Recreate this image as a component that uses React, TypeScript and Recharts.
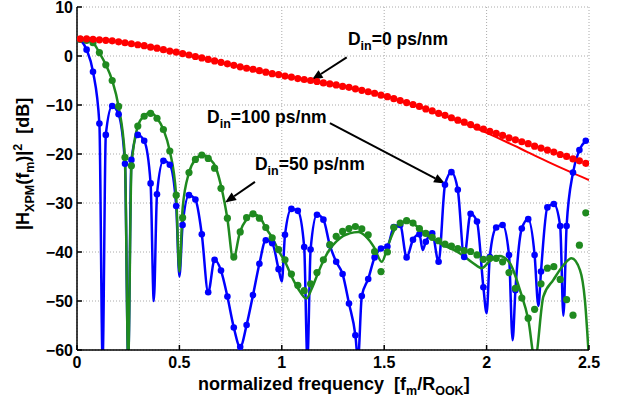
import React from 'react'
import {
  CartesianGrid,
  ComposedChart,
  Label,
  Line,
  ReferenceDot,
  ReferenceLine,
  XAxis,
  YAxis
} from 'recharts'

const FONT = '"Liberation Sans", Arial, Helvetica, sans-serif'
const RED = '#ff0000'
const GREEN = '#1f8a1f'
const BLUE = '#0000ff'

const freqTicks = [0, 0.5, 1, 1.5, 2, 2.5]
const dbTicks = [-60, -50, -40, -30, -20, -10, 0, 10]

// simulated points sit on a 1/32 grid, offset by half a step
const sampleFreq = Array.from({ length: 80 }, (_, k) => (2 * k + 1) / 64)

// D_in = 0 ps/nm, simulation (red dots)
const redSim = [
  3.5, 3.5, 3.4, 3.3, 3.2, 3.1, 2.9, 2.7, 2.5, 2.3,
  2.1, 1.8, 1.6, 1.3, 1.0, 0.8, 0.5, 0.2, -0.1, -0.4,
  -0.7, -1.0, -1.3, -1.6, -1.9, -2.2, -2.5, -2.7, -3.0, -3.3,
  -3.6, -3.8, -4.1, -4.3, -4.6, -4.8, -5.0, -5.2, -5.5, -5.7,
  -5.9, -6.2, -6.4, -6.7, -7.0, -7.3, -7.6, -8.0, -8.3, -8.7,
  -9.1, -9.5, -9.9, -10.3, -10.8, -11.2, -11.7, -12.1, -12.6, -13.1,
  -13.5, -14.0, -14.5, -14.9, -15.4, -15.8, -16.2, -16.7, -17.1, -17.5,
  -17.9, -18.4, -18.8, -19.2, -19.6, -20.1, -20.5, -21.0, -21.4, -21.9
]

// D_in = 50 ps/nm, simulation (green dots)
const greenSim = [
  3.4, 3.2, 2.7, 0.7, -1.8, -5.0, -10.3, -20.7, -22.4, -14.3,
  -12.3, -11.7, -12.7, -15.0, -19.4, -28.4, -33.0, -23.8, -21.1, -20.2,
  -20.9, -22.9, -27.0, -33.1, -41.0, -35.9, -33.0, -32.2, -33.1, -35.0,
  -37.1, -39.5, -41.6, -44.5, -46.8, -47.9, -46.5, -44.2, -41.6, -38.5,
  -36.8, -35.8, -35.2, -34.8, -35.3, -36.5, -39.9, -44.0, -40.0, -35.0,
  -34.1, -33.6, -34.1, -35.2, -36.2, -37.0, -37.7, -38.4, -38.8, -39.3,
  -39.7, -39.9, -40.6, -41.5, -41.3, -41.3, -42.0, -44.2, -47.4, -49.4,
  -53.5, -51.7, -46.5, -43.3, -43.0, -45.6, -49.7, -52.9, -38.6, -32.0
]

// D_in = 100 ps/nm, simulation (blue dots)
const blueSim = [
  3.4, 1.3, -3.2, -13.8, -16.1, -10.2, -11.9, -22.0, -21.2, -16.1,
  -17.3, -26.0, -28.2, -21.4, -22.2, -30.6, -34.5, -28.4, -29.3, -36.4,
  -48.2, -41.6, -43.8, -49.1, -55.4, -59.4, -54.9, -48.8, -42.4, -37.6,
  -38.2, -43.5, -36.5, -31.2, -31.6, -39.0, -39.5, -32.4, -33.4, -38.6,
  -42.0, -44.5, -50.5, -57.0, -49.0, -45.5, -41.1, -39.3, -38.9, -34.9,
  -34.5, -41.1, -37.5, -36.4, -37.9, -36.2, -42.0, -26.3, -23.7, -27.3,
  -41.0, -32.2, -33.8, -47.2, -41.0, -35.0, -34.5, -40.6, -47.8, -35.2,
  -33.3, -40.6, -44.0, -30.9, -30.2, -34.7, -34.7, -23.8, -19.2, -17.3
]

// notches of the 100 ps/nm curve that fall between the samples
const blueNotches: [number, number][] = [
  [0.125, -62], [0.25, -62], [0.375, -50], [0.5, -45], [1.0, -46],
  [1.125, -62], [1.372, -62], [1.688, -39.6], [2.0, -52.5], [2.127, -58],
  [2.253, -51], [2.375, -53]
]

// analytical curves
const redTheory: [number, number][] = [
  [0, 3.5], [0.1, 3.35], [0.2, 2.95], [0.3, 2.3], [0.4, 1.5], [0.5, 0.65],
  [0.6, -0.3], [0.7, -1.25], [0.8, -2.2], [0.9, -3.1], [1.0, -3.95],
  [1.1, -4.75], [1.2, -5.45], [1.3, -6.2], [1.4, -7.1], [1.5, -8.1],
  [1.6, -9.4], [1.7, -10.8], [1.8, -12.3], [1.9, -13.9], [2.0, -15.7],
  [2.1, -17.6], [2.2, -19.6], [2.3, -21.6], [2.4, -23.5], [2.5, -25.3]
]

const greenTheory: [number, number][] = [
  [0, 3.5], [0.04, 3.3], [0.078, 2.7], [0.109, 0.7], [0.141, -1.8], [0.172, -5],
  [0.203, -10.3], [0.234, -20.7], [0.25, -62], [0.266, -22.4], [0.297, -14.3],
  [0.328, -12.2], [0.36, -11.6], [0.391, -12.7], [0.422, -15], [0.453, -19.4],
  [0.484, -28.4], [0.5, -44], [0.516, -31], [0.547, -23.8], [0.578, -21.1],
  [0.612, -20.2], [0.646, -20.9], [0.679, -22.9], [0.706, -27], [0.734, -33.1],
  [0.763, -41.5], [0.796, -35.9], [0.828, -33.3], [0.86, -32.3], [0.894, -33],
  [0.923, -35.2], [0.955, -37.2], [0.985, -39.8], [1.016, -42], [1.048, -45],
  [1.08, -47.5], [1.12, -49.5], [1.146, -47.5], [1.175, -44.5], [1.203, -41.8],
  [1.235, -39.4], [1.268, -37.8], [1.3, -36.7], [1.33, -36.2], [1.374, -35.9],
  [1.41, -36.8], [1.45, -39], [1.488, -42], [1.52, -38.5], [1.55, -35.5],
  [1.58, -34.2], [1.618, -33.6], [1.66, -34.8], [1.707, -36.5], [1.75, -37.6],
  [1.789, -38.6], [1.83, -39.4], [1.87, -40.3], [1.935, -42.3], [1.976, -43.3],
  [2.017, -41.8], [2.065, -40.8], [2.114, -42.3], [2.163, -47.8], [2.204, -53.9],
  [2.236, -62], [2.277, -49.1], [2.326, -45.7], [2.375, -42.7], [2.415, -41.3],
  [2.456, -43.7], [2.48, -49.8], [2.5, -62]
]

// annotations: text corner and arrow, in data units
const notes = [
  { value: '0', at: [1.323, 2.24], from: [1.317, -0.27], to: [1.146, -4.9] },
  { value: '100', at: [0.635, -13.6], from: [1.235, -13.7], to: [1.797, -26] },
  { value: '50', at: [0.869, -23.2], from: [0.869, -25.7], to: [0.723, -29.9] }
]

const toRows = (pts: [number, number][]) => pts.map(([f, v]) => ({ f, v }))
const simRows = (vals: number[]) => vals.map((v, i) => ({ f: sampleFreq[i], v }))

const redDots = simRows(redSim)
const greenDots = simRows(greenSim)
const blueDots = simRows(blueSim)
const blueCurve = [...blueDots, ...toRows(blueNotches)].sort((a, b) => a.f - b.f)

function Arrow(props: any) {
  const { x1, y1, x2, y2 } = props
  const ang = Math.atan2(y2 - y1, x2 - x1)
  const len = 11
  const half = 4.5
  const bx = x2 - len * Math.cos(ang)
  const by = y2 - len * Math.sin(ang)
  const px = -Math.sin(ang) * half
  const py = Math.cos(ang) * half
  return <g>
    <line x1={x1} y1={y1} x2={bx} y2={by} stroke="#000" strokeWidth={2} />
    <polygon points={`${x2},${y2} ${bx + px},${by + py} ${bx - px},${by - py}`} fill="#000" />
  </g>
}

function NoteText({ cx, cy, value }: any) {
  return <text x={cx} y={cy} fontFamily={FONT} fontSize={17.5} fontWeight="bold" fill="#000">
    D<tspan dy={5} fontSize={12.5}>in</tspan><tspan dy={-5}>={value} ps/nm</tspan>
  </text>
}

const pre = { whiteSpace: 'pre' as const }

function XTitle({ viewBox }: any) {
  const x = viewBox.x + 121
  const y = viewBox.y + 40
  return <text x={x} y={y} xmlSpace="preserve" style={pre} fontFamily={FONT} fontSize={18} fontWeight="bold" fill="#000">
    {'normalized frequency  [f'}<tspan dy={5} fontSize={12.5}>m</tspan>
    <tspan dy={-5}>/R</tspan><tspan dy={5} fontSize={12.5}>OOK</tspan><tspan dy={-5}>]</tspan>
  </text>
}

function YTitle({ viewBox }: any) {
  const x = viewBox.x + 12
  const y = viewBox.y + 223
  return <text x={x} y={y} xmlSpace="preserve" style={pre} transform={`rotate(-90, ${x}, ${y})`}
    fontFamily={FONT} fontSize={18} fontWeight="bold" fill="#000">
    |H<tspan dy={5} fontSize={12.5}>XPM</tspan><tspan dy={-5}>(f</tspan>
    <tspan dy={5} fontSize={12.5}>m</tspan><tspan dy={-5}>)|</tspan>
    <tspan dy={-7} fontSize={12.5}>2</tspan><tspan dy={7}>{'  [dB]'}</tspan>
  </text>
}

const axisStroke = { stroke: '#000', strokeWidth: 1.5 }
const tickStyle = { fill: '#000', fontSize: 16, fontWeight: 'bold', fontFamily: FONT }
const minus = (v: number) => (v < 0 ? '\u2212' + Math.abs(v) : String(v))

export default function App() {
  return <div style={{ position: 'absolute', left: 0, top: 0, width: 625, height: 404, background: '#fff' }}>
    <ComposedChart width={625} height={404} margin={{ top: 7, right: 36, bottom: 0, left: 17 }}>
      <CartesianGrid stroke="#aaa" strokeDasharray="1 2" />
      <XAxis dataKey="f" type="number" domain={[0, 2.5]} ticks={freqTicks} interval={0} allowDataOverflow
        height={54} axisLine={axisStroke} tickLine={axisStroke} tickSize={-5} tickMargin={12} tick={tickStyle}>
        <Label content={(p: any) => <XTitle {...p} />} />
      </XAxis>
      <XAxis xAxisId="top" orientation="top" type="number" domain={[0, 2.5]} ticks={freqTicks} interval={0}
        height={0} axisLine={axisStroke} tickLine={axisStroke} tickSize={-5} tickFormatter={() => ''} />
      <YAxis type="number" domain={[-60, 10]} ticks={dbTicks} interval={0} allowDataOverflow width={60}
        axisLine={axisStroke} tickLine={axisStroke} tickSize={-5} tickMargin={9} tick={tickStyle}
        tickFormatter={minus}>
        <Label content={(p: any) => <YTitle {...p} />} />
      </YAxis>
      <YAxis yAxisId="right" orientation="right" type="number" domain={[-60, 10]} ticks={dbTicks} interval={0}
        width={0} axisLine={axisStroke} tickLine={axisStroke} tickSize={-5} tickFormatter={() => ''} />

      <Line data={blueCurve} dataKey="v" type="monotone" stroke={BLUE} strokeWidth={2.5} dot={false}
        activeDot={false} isAnimationActive={false} />
      <Line data={blueDots} dataKey="v" stroke="none" dot={{ r: 3.3, fill: BLUE, stroke: 'none' }}
        activeDot={false} isAnimationActive={false} />
      <Line data={toRows(greenTheory)} dataKey="v" type="monotone" stroke={GREEN} strokeWidth={2.5} dot={false}
        activeDot={false} isAnimationActive={false} />
      <Line data={greenDots} dataKey="v" stroke="none" dot={{ r: 3.6, fill: GREEN, stroke: 'none' }}
        activeDot={false} isAnimationActive={false} />
      <Line data={toRows(redTheory)} dataKey="v" type="monotone" stroke={RED} strokeWidth={2} dot={false}
        activeDot={false} isAnimationActive={false} />
      <Line data={redDots} dataKey="v" stroke="none" dot={{ r: 3.6, fill: RED, stroke: 'none' }}
        activeDot={false} isAnimationActive={false} />

      {notes.map((n) => <ReferenceLine key={'a' + n.value}
        segment={[{ x: n.from[0], y: n.from[1] }, { x: n.to[0], y: n.to[1] }]} shape={Arrow} />)}
      {notes.map((n) => <ReferenceDot key={'t' + n.value} x={n.at[0]} y={n.at[1]}
        shape={(p: any) => <NoteText {...p} value={n.value} />} />)}
    </ComposedChart>
  </div>
}
